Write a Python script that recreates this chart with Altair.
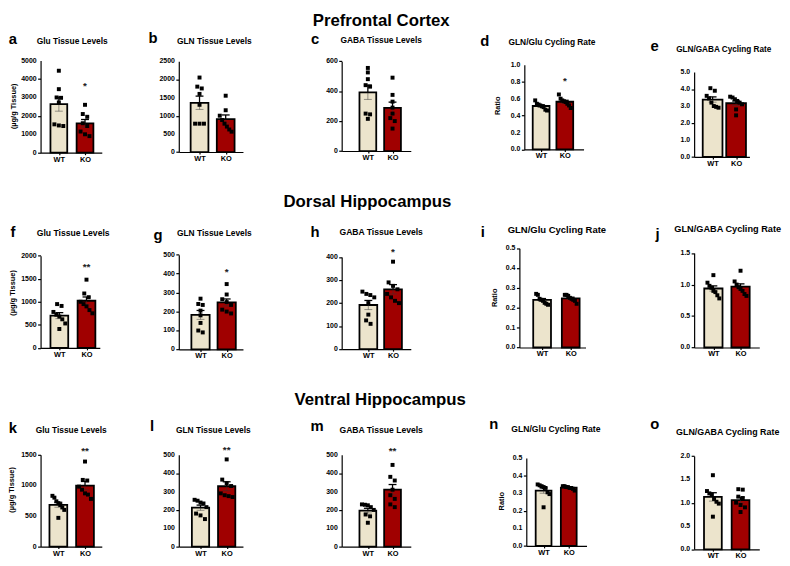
import altair as alt
import pandas as pd

# ---------------- data (n = 8 per group) ----------------
PFC_GLU_WT = [4450, 3450, 3000, 2980, 2730, 1540, 1480, 1450]
PFC_GLU_KO = [2600, 2100, 1950, 1600, 1450, 1150, 1000, 900]
PFC_GLN_WT = [2050, 1800, 1750, 1600, 1300, 780, 780, 780]
PFC_GLN_KO = [1550, 1150, 1000, 880, 780, 700, 620, 560]
PFC_GABA_WT = [555, 525, 480, 440, 430, 250, 245, 215]
PFC_GABA_KO = [490, 375, 330, 290, 250, 220, 200, 150]
PFC_GLNGLU_WT = [0.58, 0.54, 0.53, 0.52, 0.51, 0.50, 0.47, 0.46]
PFC_GLNGLU_KO = [0.65, 0.60, 0.58, 0.57, 0.56, 0.54, 0.52, 0.49]
PFC_GLNGABA_WT = [4.05, 3.9, 3.6, 3.45, 3.2, 3.0, 2.95, 2.9]
PFC_GLNGABA_KO = [3.55, 3.5, 3.4, 3.3, 3.2, 3.1, 2.8, 2.45]

DH_GLU_WT = [950, 910, 780, 720, 680, 620, 530, 410]
DH_GLU_KO = [1480, 1180, 1100, 1000, 950, 900, 820, 750]
DH_GLN_WT = [268, 240, 235, 205, 180, 140, 100, 90]
DH_GLN_KO = [345, 290, 265, 250, 235, 210, 200, 190]
DH_GABA_WT = [250, 240, 235, 225, 200, 150, 125, 110]
DH_GABA_KO = [380, 290, 275, 260, 240, 225, 210, 200]
DH_GLNGLU_WT = [0.27, 0.265, 0.245, 0.24, 0.235, 0.225, 0.22, 0.215]
DH_GLNGLU_KO = [0.265, 0.265, 0.26, 0.25, 0.245, 0.24, 0.235, 0.22]
DH_GLNGABA_WT = [1.15, 1.03, 0.98, 0.95, 0.90, 0.88, 0.83, 0.78]
DH_GLNGABA_KO = [1.22, 1.05, 1.00, 0.96, 0.93, 0.90, 0.85, 0.82]

VH_GLU_WT = [830, 800, 740, 710, 680, 640, 600, 470]
VH_GLU_KO = [1390, 1090, 1080, 980, 930, 870, 850, 780]
VH_GLN_WT = [255, 250, 240, 235, 215, 180, 170, 150]
VH_GLN_KO = [475, 365, 345, 330, 290, 280, 275, 270]
VH_GABA_WT = [230, 228, 225, 215, 200, 175, 165, 130]
VH_GABA_KO = [445, 380, 360, 310, 280, 260, 230, 215]
VH_GLNGLU_WT = [0.35, 0.345, 0.34, 0.335, 0.33, 0.305, 0.295, 0.22]
VH_GLNGLU_KO = [0.34, 0.34, 0.335, 0.335, 0.33, 0.33, 0.325, 0.315]
VH_GLNGABA_WT = [1.59, 1.25, 1.20, 1.17, 1.08, 1.02, 0.98, 0.70]
VH_GLNGABA_KO = [1.29, 1.28, 1.13, 1.10, 1.00, 0.95, 0.90, 0.80]

GROUPS = ["WT", "KO"]
ROW_TITLES = ["Prefrontal Cortex", "Dorsal Hippocampus", "Ventral Hippocampus"]
LETTERS = list("abcdefghijklmno")
TITLES = ["Glu Tissue Levels", "GLN Tissue Levels", "GABA Tissue Levels",
          "GLN/Glu Cycling Rate", "GLN/GABA Cycling Rate"] * 3
UNIT_TITLE = "(\u00b5g/g Tissue)"

SERIES = [
    (PFC_GLU_WT, PFC_GLU_KO), (PFC_GLN_WT, PFC_GLN_KO), (PFC_GABA_WT, PFC_GABA_KO),
    (PFC_GLNGLU_WT, PFC_GLNGLU_KO), (PFC_GLNGABA_WT, PFC_GLNGABA_KO),
    (DH_GLU_WT, DH_GLU_KO), (DH_GLN_WT, DH_GLN_KO), (DH_GABA_WT, DH_GABA_KO),
    (DH_GLNGLU_WT, DH_GLNGLU_KO), (DH_GLNGABA_WT, DH_GLNGABA_KO),
    (VH_GLU_WT, VH_GLU_KO), (VH_GLN_WT, VH_GLN_KO), (VH_GABA_WT, VH_GABA_KO),
    (VH_GLNGLU_WT, VH_GLNGLU_KO), (VH_GLNGABA_WT, VH_GLNGABA_KO),
]

# axis ticks per panel
TICKS = [
    [0, 1000, 2000, 3000, 4000, 5000], [0, 500, 1000, 1500, 2000, 2500], [0, 200, 400, 600],
    [0, 0.2, 0.4, 0.6, 0.8, 1.0], [0, 1, 2, 3, 4, 5],
    [0, 500, 1000, 1500, 2000], [0, 100, 200, 300, 400, 500], [0, 100, 200, 300, 400],
    [0, 0.1, 0.2, 0.3, 0.4, 0.5], [0, 0.5, 1.0, 1.5],
    [0, 500, 1000, 1500], [0, 100, 200, 300, 400, 500], [0, 100, 200, 300, 400, 500],
    [0, 0.1, 0.2, 0.3, 0.4, 0.5], [0, 0.5, 1.0, 1.5, 2.0],
]
FORMATS = ["d", "d", "d", ".1f", ".1f", "d", "d", "d", ".1f", ".1f", "d", "d", "d", ".1f", ".1f"]

# significance marks: panel index -> (label, height in data units)
STARS = {0: ("*", 3750), 3: ("*", 0.83), 5: ("**", 1786), 6: ("*", 417), 7: ("*", 431),
         10: ("**", 1597), 11: ("**", 536), 12: ("**", 532)}

# ---------------- layout ----------------
BEIGE = "#ECE4CC"
RED = "#A00000"
FONT = "Liberation Sans"
COL_W = [140, 165, 185, 172, 70]
ROW_H = [190, 210, 96]

# axis length, WT centre, KO centre, bar width, axis x shift, y range bottom, y range top
GEOM = [
    (62, 18.5, 45, 17, 0, 94, 0.7), (65, 21, 47.5, 18, 0, 93.3, 1.3), (70, 26.5, 51.5, 17, 0, 92.3, 1.3),
    (60, 17, 41, 17, 0, 90.7, 5), (56, 18.7, 42.5, 20, 0, 98.3, 12.3),
    (60, 19, 46.5, 18, 0, 101.7, 8.3), (65, 22, 48.5, 18.5, 0, 103.3, 7.3), (70, 27, 52, 18, 0, 103, 9.7),
    (67, 23, 52, 18, -5, 101.3, 0.7), (66, 19.5, 47, 18.5, 0, 101.3, 5.7),
    (62, 18, 45, 18, 0, 93, 0), (65, 22, 48.5, 17.5, 0, 93, 0), (70, 26.5, 51.5, 17, 0, 93, 0),
    (61, 17.5, 43, 16, 2, 92.3, 3.3), (66, 19, 47, 18, 0, 95.7, 1.3),
]
LETTER_POS = [(-28, -21), (-26, -22.5), (-27, -21), (-40, -19.5), (-40, -14),
              (-28, -15.5), (-21, -13), (-27, -15.5), (-42, -16), (-37, -14),
              (-28, -27.5), (-27, -29.5), (-25, -29), (-31, -31), (-40, -31)]
TITLE_POS = [(32, -19, 8.5), (36, -19, 8.5), (40, -20, 8.5), (28, -18, 8.5), (30, -10, 8.3),
             (33, -15, 8.7), (36, -15, 8.5), (40, -16, 8.7), (33, -18, 9.6), (34, -19, 9.3),
             (31, -25, 8.5), (35, -25, 8.5), (40, -25, 8.7), (32, -26, 8.7), (34, -23, 9.0)]
YTITLES = {0: (UNIT_TITLE, -27, 47), 3: ("Ratio", -27, 46.5), 5: (UNIT_TITLE, -28, 46),
           8: ("Ratio", -30, 51), 10: (UNIT_TITLE, -29, 35.5), 13: ("Ratio", -23, 47)}
ROW_TITLE_POS = {2: (0, 40, -34.4), 7: (1, 26, -41.3), 12: (2, 39, -50.5)}


def jitter(vals, ymax, pxh):
    """horizontal pixel offsets so that points with similar values sit side by side"""
    thr = 4.5 * ymax / pxh
    order = sorted(range(len(vals)), key=lambda i: -vals[i])
    clusters = []
    for i in order:
        if clusters and abs(vals[clusters[-1][-1]] - vals[i]) < thr:
            clusters[-1].append(i)
        else:
            clusters.append([i])
    off = [0.0] * len(vals)
    for c in clusters:
        k = len(c)
        sp = min(4.5, 12.0 / (k - 1)) if k > 1 else 0
        for j, i in enumerate(c):
            off[i] = (j - (k - 1) / 2) * sp
    return off


def text_layer(txt, x, y, size, angle=0, baseline="middle", align="center"):
    kw = dict(font=FONT, fontWeight="bold", fontSize=size, baseline=baseline, align=align, color="black")
    if angle:
        kw["angle"] = angle
    return alt.Chart(pd.DataFrame({"t": [txt]})).mark_text(**kw).encode(
        text="t:N", x=alt.value(x), y=alt.value(y))


def panel(idx):
    wt, ko = SERIES[idx]
    L, cw, ck, bw, dx, yb, yt = GEOM[idx]
    H = ROW_H[idx // 5]
    u = ck - cw
    ticks = TICKS[idx]
    ymax = ticks[-1]
    rows = []
    for gi, vals in enumerate([wt, ko]):
        offs = jitter(vals, ymax, yb - yt)
        for v, o in zip(vals, offs):
            rows.append({"group": GROUPS[gi], "gi": gi, "value": v, "px": gi + o / u})
    df = pd.DataFrame(rows)

    xs = alt.Scale(domain=[-cw / u, (L - cw) / u], range=[dx, dx + L], nice=False, zero=False)
    ys = alt.Scale(domain=[0, ymax], range=[yb, yt], nice=False, zero=False)
    xaxis = alt.Axis(values=[0, 1], labelExpr="datum.value == 0 ? 'WT' : 'KO'", title=None,
                     labelFontSize=7.5, tickSize=2, labelPadding=0.5, labelFlush=False,
                     labelOverlap=False, offset=yb - H)
    yaxis = alt.Axis(values=ticks, title=None, offset=-dx, tickSize=3, labels=False)

    hw = bw / 2 / u
    cap = 4 / u
    base = alt.Chart(df)
    agg = base.transform_aggregate(
        m="mean(value)", s="stderr(value)", groupby=["gi", "group"]
    ).transform_calculate(
        xl=f"datum.gi - {hw}", xr=f"datum.gi + {hw}", z="0",
        hi="datum.m + datum.s", lo="datum.m - datum.s",
        cl=f"datum.gi - {cap}", cr=f"datum.gi + {cap}",
    )
    bars = agg.mark_bar(stroke="black", strokeWidth=1.8).encode(
        x=alt.X("xl:Q", scale=xs, axis=xaxis, title=None),
        x2="xr:Q",
        y=alt.Y("m:Q", scale=ys, axis=yaxis, title=None),
        y2="z:Q",
        fill=alt.Fill("group:N", scale=alt.Scale(domain=GROUPS, range=[BEIGE, RED]), legend=None),
    )
    err_lo = agg.mark_rule(color="#333333", strokeWidth=1.1, opacity=0.45).encode(
        x=alt.X("gi:Q", title=None), y=alt.Y("lo:Q", title=None), y2="m:Q")
    cap_lo = agg.mark_rule(color="#333333", strokeWidth=1.1, opacity=0.45).encode(
        x=alt.X("cl:Q", title=None), x2="cr:Q", y=alt.Y("lo:Q", title=None))
    err_hi = agg.mark_rule(color="black", strokeWidth=1.3).encode(
        x=alt.X("gi:Q", title=None), y=alt.Y("m:Q", title=None), y2="hi:Q")
    cap_hi = agg.mark_rule(color="black", strokeWidth=1.3).encode(
        x=alt.X("cl:Q", title=None), x2="cr:Q", y=alt.Y("hi:Q", title=None))
    pts = base.mark_square(filled=True, color="black", size=16, opacity=1).encode(
        x=alt.X("px:Q", title=None), y=alt.Y("value:Q", title=None))
    # y tick labels, placed through the y scale
    ylabels = alt.Chart(pd.DataFrame({"v": ticks})).mark_text(
        font=FONT, fontWeight="bold", fontSize=7, align="right", baseline="middle", color="black"
    ).encode(x=alt.value(dx - 4), y=alt.Y("v:Q", title=None),
             text=alt.Text("v:Q", format=FORMATS[idx]))

    layers = [bars, err_lo, cap_lo, err_hi, cap_hi, pts, ylabels]
    if idx in STARS:
        s, sy = STARS[idx]
        layers.append(
            alt.Chart(pd.DataFrame({"sx": [1], "sy": [sy], "t": [s]})).mark_text(
                font=FONT, fontWeight="bold", fontSize=10, baseline="middle", dy=2, color="#222222"
            ).encode(x=alt.X("sx:Q", title=None), y=alt.Y("sy:Q", title=None), text="t:N"))
    lx, ly = LETTER_POS[idx]
    layers.append(text_layer(LETTERS[idx], lx, ly, 15))
    tx, ty, ts = TITLE_POS[idx]
    layers.append(text_layer(TITLES[idx], tx, ty, ts))
    if idx in YTITLES:
        t, ax, ay = YTITLES[idx]
        layers.append(text_layer(t, ax, ay, 7.5, angle=270))
    if idx in ROW_TITLE_POS:
        r, rx, ry = ROW_TITLE_POS[idx]
        layers.append(text_layer(ROW_TITLES[r], rx, ry, 17, baseline="alphabetic"))

    return alt.layer(*layers).properties(width=COL_W[idx % 5], height=H)


chart = alt.concat(
    *[panel(i) for i in range(15)], columns=5, spacing=0, bounds="flush", align="each"
).properties(padding=0).configure_view(stroke=None).configure_axis(
    grid=False, domainColor="black", domainWidth=1.2, tickColor="black", tickWidth=1.2,
    labelFont=FONT, labelFontWeight="bold", labelFontSize=7, labelColor="black",
)

chart.save("out.html", embed_options={"renderer": "svg", "actions": False})
